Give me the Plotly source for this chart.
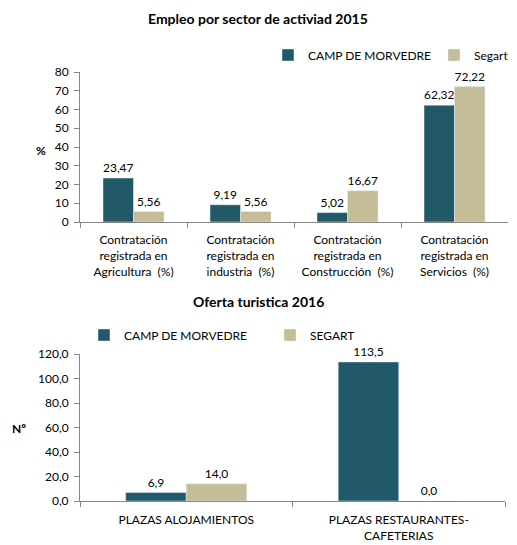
import plotly.graph_objects as go

# Top chart data
sectors = ["Contratación<br>registrada en<br>Agricultura  (%)",
           "Contratación<br>registrada en<br>industria  (%)",
           "Contratación<br>registrada en<br>Construcción  (%)",
           "Contratación<br>registrada en<br>Servicios  (%)"]
camp_empleo = [23.47, 9.19, 5.02, 62.32]
segart_empleo = [5.56, 5.56, 16.67, 72.22]

# Bottom chart data
oferta_cats = ["PLAZAS ALOJAMIENTOS", "PLAZAS RESTAURANTES-<br>CAFETERIAS"]
camp_oferta = [6.9, 113.5]
segart_oferta = [14.0, 0.0]

TEAL = "#215968"
TAN = "#C4BD97"
FONT = "Lato, 'Open Sans', sans-serif"
AX = "#868686"

fig = go.Figure()
fig.add_trace(go.Bar(x=sectors, y=camp_empleo, name="CAMP DE MORVEDRE", marker_color=TEAL,
                     texttemplate="%{y:.2f}", textposition="outside", cliponaxis=False,
                     xaxis="x", yaxis="y", legend="legend", legendwidth=121))
fig.add_trace(go.Bar(x=sectors, y=segart_empleo, name="Segart", marker_color=TAN,
                     texttemplate="%{y:.2f}", textposition="outside", cliponaxis=False,
                     xaxis="x", yaxis="y", legend="legend", legendwidth=40))
fig.add_trace(go.Bar(x=oferta_cats, y=camp_oferta, name="CAMP DE MORVEDRE", marker_color=TEAL,
                     texttemplate="%{y:.1f}", textposition="outside", cliponaxis=False,
                     xaxis="x2", yaxis="y2", legend="legend2", legendwidth=141))
fig.add_trace(go.Bar(x=oferta_cats, y=segart_oferta, name="SEGART", marker_color=TAN,
                     texttemplate="%{y:.1f}", textposition="outside", cliponaxis=False,
                     xaxis="x2", yaxis="y2", legend="legend2", legendwidth=55))

W, H = 517, 545
def px(x): return x / W
def py(y): return 1 - y / H

axis_common = dict(showline=True, linecolor=AX, linewidth=1, ticks="outside",
                   tickcolor=AX, ticklen=5, showgrid=False, zeroline=False,
                   tickfont=dict(size=12, color="#000000", family=FONT))

def note(text, x, y, size=12):
    return dict(text=text, x=px(x), y=py(y), xref="paper", yref="paper",
                xanchor="center", yanchor="middle", showarrow=False,
                font=dict(size=size))

fig.update_layout(
    width=W, height=H, margin=dict(l=0, r=0, t=0, b=0, autoexpand=False),
    paper_bgcolor="white", plot_bgcolor="white",
    separators=",.",
    barmode="group", bargap=0.43, bargroupgap=0,
    font=dict(family=FONT, size=12, color="#000000"),
    xaxis=dict(domain=[px(80), px(508)], anchor="y", tickson="boundaries",
               ticklabelstandoff=7, **axis_common),
    yaxis=dict(domain=[py(222), py(72)], anchor="x", range=[0, 80], dtick=10,
               ticklabelstandoff=3, **axis_common),
    xaxis2=dict(domain=[px(80), px(505)], anchor="y2", tickson="boundaries",
                ticklabelstandoff=8, **axis_common),
    yaxis2=dict(domain=[py(501), py(354)], anchor="x2", range=[0, 120], dtick=20,
                tickformat=".1f", ticklabelstandoff=3, **axis_common),
    legend=dict(orientation="h", x=px(268), y=py(55), xanchor="left", yanchor="middle",
                font=dict(size=12), itemwidth=30, bgcolor="rgba(0,0,0,0)",
                traceorder="normal"),
    legend2=dict(orientation="h", x=px(84), y=py(335), xanchor="left", yanchor="middle",
                 font=dict(size=12), itemwidth=30, bgcolor="rgba(0,0,0,0)",
                 traceorder="normal"),
    annotations=[
        note("<b>Empleo por sector de activiad 2015</b>", 258, 18, 14),
        note("<b>Oferta turistica 2016</b>", 258, 301, 14),
        note("<b>%</b>", 41, 150),
        note("<b>Nº</b>", 19, 428),
    ],
)

fig.write_html("out.html", post_script="document.body.style.margin='0';",
               config={"displayModeBar": False})
